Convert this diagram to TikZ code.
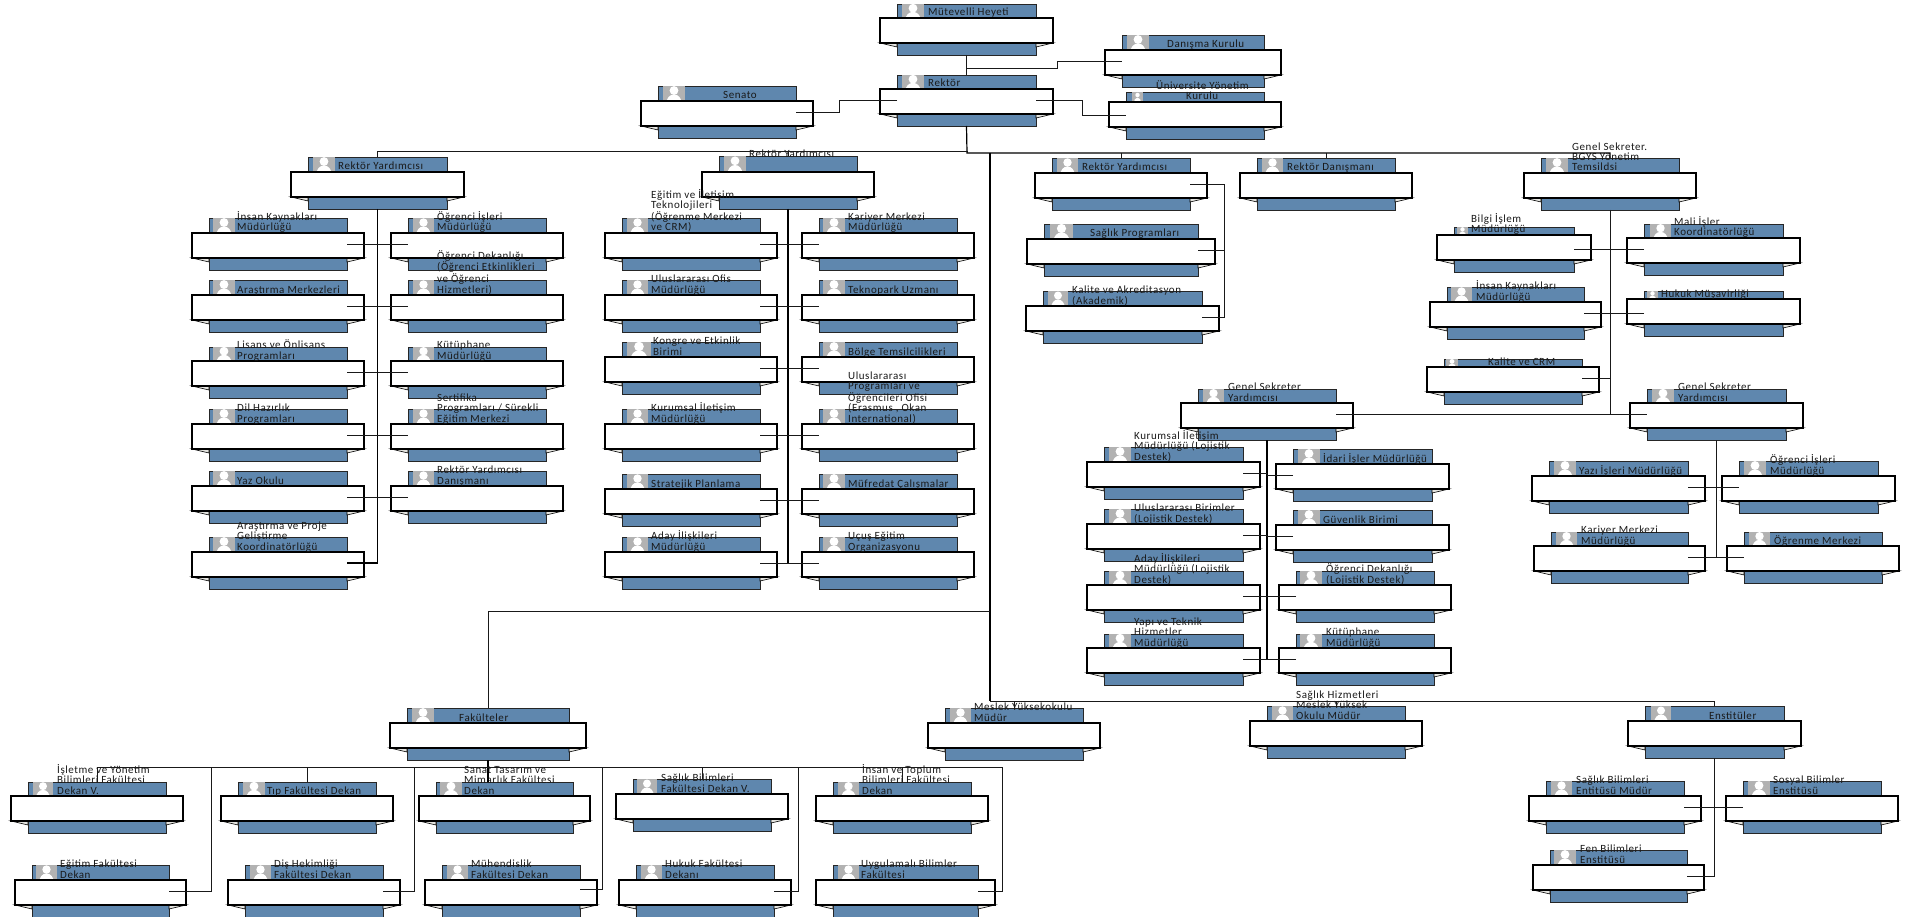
\documentclass[tikz,border=0pt]{standalone}
\usepackage{fontspec}
\setmainfont[LetterSpace=5]{Carlito}
\definecolor{cardblue}{HTML}{5F87AE}
\definecolor{photogray}{HTML}{B2B2B2}
\definecolor{foldgray}{HTML}{E4E4E0}
\tikzset{
  bluecard/.style={draw=black!85, line width=0.9pt, fill=cardblue, inner sep=0pt, outer sep=0pt},
  bannerbox/.style={draw=black, line width=1.1pt, fill=white, inner sep=0pt, outer sep=0pt},
  foldtip/.style={draw=black, line width=0.6pt, fill=foldgray},
  cardtext/.style={anchor=base west, align=left, inner sep=0pt, text=black!90, font=\fontsize{11}{10.4}\selectfont},
  link/.style={draw=black!90, line width=0.9pt},
  trunk/.style={draw=black, line width=1.2pt}
}
% name, blue left, blue right, blue top, banner top, photo left, photo right, text left, text
\newcommand{\orgcard}[9]{
  \pgfmathsetmacro{\cardmid}{(#2+#3)/2}
  \pgfmathsetmacro{\cardbot}{#5+37}
  \pgfmathsetmacro{\foldtop}{#5+25}
  \pgfmathsetmacro{\foldlow}{#5+29}
  \pgfmathsetmacro{\photomid}{(#6+#7)/2}
  \pgfmathsetmacro{\photow}{#7-#6}
  \pgfmathsetmacro{\photoh}{#5-#4}
  \node[bluecard, minimum width={(#3-#2)*1pt}, minimum height={(\cardbot-#4)*1pt}] (#1-card) at (\cardmid,{(#4+\cardbot)/2}) {};
  \fill[photogray] (#6,#4) rectangle (#7,#5);
  \begin{scope}
    \clip (#6,#4) rectangle (#7,#5);
    \fill[white] (\photomid,{#4+0.3*\photoh}) circle ({0.2*\photow});
    \fill[white] (\photomid,{#5+0.12*\photoh}) ellipse ({0.34*\photow} and {0.56*\photoh});
  \end{scope}
  \draw[foldtip] ({#2-17},\foldtop) -- (#2,\foldlow) -- (#2,\foldtop) -- cycle;
  \draw[foldtip] ({#3+17},\foldtop) -- (#3,\foldlow) -- (#3,\foldtop) -- cycle;
  \node[bannerbox, minimum width={(#3-#2+34)*1pt}, minimum height=25pt] (#1) at (\cardmid,{#5+12.5}) {};
  \coordinate (#1-l) at (#2,{#5+11});
  \coordinate (#1-r) at (#3,{#5+11});
  \node[cardtext] (#1-txt) at (#8,{#5-2}) {#9};
}
\begin{document}
\begin{tikzpicture}[x=1pt,y=-1pt]
\useasboundingbox (0,0) rectangle (1910,917);

% Top of the chart
\orgcard{mutevelli}{897}{1036}{4}{18}{902}{924}{928}{Mütevelli Heyeti}
\orgcard{danisma}{1122}{1264}{35}{50}{1127}{1149}{1167}{Danışma Kurulu}
\orgcard{rektor}{897}{1036}{75}{89}{902}{924}{928}{Rektör}
\orgcard{senato}{658}{796}{86}{101}{663}{685}{723}{Senato}
\orgcard{uyk}{1126}{1264}{92}{102}{1132}{1143}{1156}{Üniversite Yönetim\\\hspace*{30pt}Kurulu}
\coordinate (uyk-l) at (1126,115);

% Vice rector, left column
\orgcard{ry1}{308}{447}{157}{172}{313}{335}{338}{Rektör Yardımcısı}
\orgcard{ik}{209}{347}{218}{233}{213}{235}{237}{İnsan Kaynakları\\Müdürlüğü}
\orgcard{ogris}{408}{546}{218}{233}{413}{434}{437}{Öğrenci İşleri\\Müdürlüğü}
\orgcard{armer}{209}{347}{280}{295}{213}{235}{237}{Araştırma Merkezleri}
\orgcard{ogrdek}{408}{546}{280}{295}{413}{434}{437}{Öğrenci Dekanlığı\\(Öğrenci Etkinlikleri\\ve Öğrenci\\Hizmetleri)}
\orgcard{lisans}{209}{347}{347}{361}{213}{235}{237}{Lisans ve Önlisans\\Programları}
\orgcard{kutup}{408}{546}{347}{361}{413}{434}{437}{Kütüphane\\Müdürlüğü}
\orgcard{dil}{209}{347}{409}{424}{213}{235}{237}{Dil Hazırlık\\Programları}
\orgcard{sertifika}{408}{546}{409}{424}{413}{434}{437}{Sertifika\\Programları / Sürekli\\Eğitim Merkezi}
\orgcard{yaz}{209}{347}{471}{486}{213}{235}{237}{Yaz Okulu}
\orgcard{rydan}{408}{546}{471}{486}{413}{434}{437}{Rektör Yardımcısı\\Danışmanı}
\orgcard{arge}{209}{347}{537}{552}{213}{235}{237}{Araştırma ve Proje\\Geliştirme\\Koordinatörlüğü}

% Vice rector, middle column
\orgcard{ry2}{719}{857}{156}{172}{724}{746}{749}{Rektör Yardımcısı\\[1.6pt]~}
\orgcard{etkm}{622}{760}{218}{233}{627}{648}{651}{Eğitim ve İletişim\\Teknolojileri\\(Öğrenme Merkezi\\ve CRM)}
\orgcard{kariyer}{819}{957}{218}{233}{823}{845}{848}{Kariyer Merkezi\\Müdürlüğü}
\orgcard{ofis}{622}{760}{280}{295}{627}{648}{651}{Uluslararası Ofis\\Müdürlüğü}
\orgcard{tekno}{819}{957}{280}{295}{823}{845}{848}{Teknopark Uzmanı}
\orgcard{kongre}{622}{760}{342}{357}{627}{651}{653}{Kongre ve Etkinlik\\Birimi}
\orgcard{bolge}{819}{957}{342}{357}{823}{845}{848}{Bölge Temsilcilikleri}
\orgcard{kurumsal}{622}{760}{409}{424}{627}{648}{651}{Kurumsal İletişim\\Müdürlüğü}
\orgcard{erasmus}{819}{957}{409}{424}{823}{845}{848}{Uluslararası\\Programları ve\\Öğrencileri Ofisi\\(Erasmus , Okan\\International)}
\orgcard{strateji}{622}{760}{474}{489}{627}{648}{651}{Stratejik Planlama}
\orgcard{mufredat}{819}{957}{474}{489}{823}{845}{848}{Müfredat Çalışmalar}
\orgcard{aday}{622}{760}{537}{552}{627}{648}{651}{Aday İlişkileri\\Müdürlüğü}
\orgcard{ucus}{819}{957}{537}{552}{823}{845}{848}{Uçuş Eğitim\\Organizasyonu}

% Vice rector, health and the adviser
\orgcard{ry3}{1052}{1190}{158}{173}{1057}{1078}{1082}{Rektör Yardımcısı}
\orgcard{rd}{1257}{1395}{158}{173}{1262}{1283}{1287}{Rektör Danışmanı}
\orgcard{sagprog}{1044}{1198}{224}{239}{1050}{1073}{1090}{Sağlık Programları}
\orgcard{kalite}{1043}{1202}{291}{306}{1048}{1068}{1072}{Kalite ve Akreditasyon\\(Akademik)}

% General secretary
\orgcard{gs}{1541}{1679}{158}{173}{1546}{1568}{1572}{Genel Sekreter.\\BGYS Yönetim\\Temsildsi}
\orgcard{bilgi}{1454}{1574}{227}{235}{1457}{1468}{1471}{Bilgi İşlem\\Müdürlüğü}
\coordinate (bilgi-r) at (1574,249);
\orgcard{mali}{1644}{1783}{224}{238}{1650}{1671}{1674}{Mali İşler\\Koordinatörlüğü}
\orgcard{ik2}{1447}{1584}{287}{302}{1451}{1472}{1476}{İnsan Kaynakları\\Müdürlüğü}
\orgcard{hukuk}{1644}{1783}{291}{299}{1647}{1658}{1661}{Hukuk Müşavirliği}
\coordinate (hukuk-l) at (1644,313);
\orgcard{kalcrm}{1444}{1582}{359}{367}{1446}{1458}{1488}{Kalite ve CRM}

% Deputy secretaries
\orgcard{gsy1}{1198}{1336}{389}{403}{1203}{1224}{1228}{Genel Sekreter\\Yardımcısı}
\orgcard{gsy2}{1647}{1786}{389}{403}{1652}{1674}{1678}{Genel Sekreter\\Yardımcısı}
\orgcard{kurlo}{1104}{1243}{447}{462}{1109}{1131}{1134}{Kurumsal İletişim\\Müdürlüğü (Lojistik\\Destek)}
\orgcard{idari}{1293}{1432}{449}{464}{1298}{1320}{1323}{İdari İşler Müdürlüğü}
\orgcard{ulus}{1104}{1243}{509}{524}{1109}{1131}{1134}{Uluslararası Birimler\\(Lojistik Destek)}
\orgcard{guvenlik}{1293}{1432}{510}{525}{1298}{1320}{1323}{Güvenlik Birimi}
\orgcard{adaylo}{1104}{1243}{571}{585}{1109}{1131}{1134}{Aday İlişkileri\\Müdürlüğü (Lojistik\\Destek)}
\orgcard{deklo}{1296}{1434}{571}{585}{1300}{1322}{1326}{Öğrenci Dekanlığı\\(Lojistik Destek)}
\orgcard{yapi}{1104}{1243}{634}{648}{1109}{1131}{1134}{Yapı ve Teknik\\Hizmetler\\Müdürlüğü}
\orgcard{kutlo}{1296}{1434}{634}{648}{1300}{1322}{1326}{Kütüphane\\Müdürlüğü}
\orgcard{yazi}{1549}{1688}{461}{476}{1554}{1576}{1579}{Yazı İşleri Müdürlüğü}
\orgcard{ogr2}{1739}{1878}{461}{476}{1744}{1766}{1770}{Öğrenci İşleri\\Müdürlüğü}
\orgcard{kar2}{1551}{1688}{532}{546}{1556}{1577}{1581}{Kariyer Merkezi\\Müdürlüğü}
\orgcard{ogrmer}{1744}{1882}{532}{546}{1749}{1770}{1774}{Öğrenme Merkezi}

% Schools and institutes
\orgcard{meslek}{945}{1083}{708}{723}{950}{971}{974}{Meslek Yüksekokulu\\Müdür}
\orgcard{shmyo}{1267}{1405}{706}{721}{1272}{1293}{1296}{Sağlık Hizmetleri\\Meslek Yüksek\\Okulu Müdür}
\orgcard{enst}{1645}{1784}{706}{721}{1651}{1671}{1709}{Enstitüler}
\orgcard{sagbil}{1546}{1684}{781}{796}{1551}{1572}{1576}{Sağlık Bilimleri\\Entitüsü Müdür}
\orgcard{sosyal}{1743}{1881}{781}{796}{1748}{1770}{1773}{Sosyal Bilimler\\Enstitüsü}
\orgcard{fen}{1550}{1687}{850}{865}{1554}{1576}{1580}{Fen Bilimleri\\Enstitüsü}

% Faculties
\orgcard{fakulteler}{407}{569}{708}{723}{412}{434}{459}{Fakülteler}
\orgcard{isletme}{28}{166}{782}{796}{33}{53}{57}{İşletme ve Yönetim\\Bilimleri Fakültesi\\Dekan V.}
\orgcard{tip}{238}{376}{782}{796}{243}{265}{267}{Tıp Fakültesi Dekan}
\orgcard{sanat}{436}{573}{782}{796}{440}{462}{464}{Sanat Tasarım ve\\Mimarlık Fakültesi\\Dekan}
\orgcard{sagfak}{633}{771}{779}{794}{637}{657}{661}{Sağlık Bilimleri\\Fakültesi Dekan V.}
\orgcard{insan}{833}{971}{782}{796}{838}{859}{862}{İnsan ve Toplum\\Bilimleri Fakültesi\\Dekan}
\orgcard{egitim}{32}{169}{865}{880}{36}{57}{60}{Eğitim Fakültesi\\Dekan}
\orgcard{dis}{245}{383}{865}{880}{250}{271}{274}{Diş Hekimliği\\Fakültesi Dekan}
\orgcard{muh}{442}{580}{865}{880}{447}{468}{471}{Mühendislik\\Fakültesi Dekan}
\orgcard{hukfak}{636}{774}{865}{880}{641}{662}{665}{Hukuk Fakültesi\\Dekanı}
\orgcard{uyg}{833}{978}{865}{880}{838}{859}{861}{Uygulamalı Bilimler\\Fakültesi}
\coordinate (muh-r) at (580,889);

% Bend points of the connectors
\coordinate (danismabend) at (1057,68);
\coordinate (uykbend) at (1082,100);
\coordinate (senatobend) at (839,100);
\coordinate (leftbus) at (967,151);
\coordinate (rightbus) at (967,153);
\coordinate (maintop) at (990,153);
\coordinate (mainbot) at (990,701);
\coordinate (fakbranch) at (990,611);
\coordinate (ry3bend) at (1224,184);
\coordinate (fakbus) at (488,767);
\coordinate (fakend) at (1002,767);

% Connectors at the top
\draw[link] (mutevelli-card.south) -- (rektor-card.north);
\draw[link] (rektor-card.north |- danismabend) -- (danismabend) |- (danisma-l);
\draw[link] (rektor-r) -- (uykbend) |- (uyk-l);
\draw[link] (rektor-l) -- (senatobend) |- (senato-r);
\draw[trunk] (rektor-card.south) -- (rightbus) -- (rightbus -| gs-card.north) -- (gs-card.north);
\draw[link] (rightbus) -- (leftbus) -- (leftbus -| ry1-card.north) -- (ry1-card.north);
\draw[link] (leftbus -| ry2-card.north) -- (ry2-card.north);
\foreach \n in {ry3, rd} {
    \draw[link] (rightbus -| \n-card.north) -- (\n-card.north);
}

% Main line to the lower half
\draw[trunk] (maintop) -- (mainbot);
\draw[link] (mainbot) -- (mainbot -| enst-card.north) -- (enst-card.north);
\draw[link] (fakbranch) -- (fakbranch -| fakulteler-card.north) -- (fakulteler-card.north);
\foreach \n in {meslek, shmyo} {
    \draw[link] (mainbot -| \n-card.north) -- (\n-card.north);
}

% Vice rector trunks
\draw[trunk] (ry1-card.south) -- (ry1-card.south |- arge-r) -- (arge-r);
\foreach \a/\b in {ik/ogris, armer/ogrdek, lisans/kutup, dil/sertifika, yaz/rydan} {
    \draw[link] (\a-r) -- (\b-l);
}
\draw[trunk] (ry2-card.south) -- (ry2-card.south |- aday-r);
\foreach \a/\b in {etkm/kariyer, ofis/tekno, kongre/bolge, kurumsal/erasmus, strateji/mufredat, aday/ucus} {
    \draw[link] (\a-r) -- (\b-l);
}
\draw[link] (ry3-r) -- (ry3bend) |- (kalite-r);
\draw[link] (sagprog-r) -- (sagprog-r -| ry3bend);

% General secretary trunk
\draw[link] (gs-card.south) -- (gs-card.south |- gsy2-l);
\draw[link] (gsy1-r) -- (gsy2-l);
\foreach \n in {bilgi, ik2, kalcrm} {
    \draw[link] (\n-r) -- (\n-r -| gs-card.south);
}
\foreach \n in {mali, hukuk} {
    \draw[link] (\n-l) -- (\n-l -| gs-card.south);
}

% Deputy secretary trunks
\draw[trunk] (gsy1-card.south) -- (gsy1-card.south |- yapi-r);
\foreach \n in {kurlo, ulus, adaylo, yapi} {
    \draw[link] (\n-r) -- (\n-r -| gsy1-card.south);
}
\foreach \n in {idari, guvenlik, deklo, kutlo} {
    \draw[link] (\n-l) -- (\n-l -| gsy1-card.south);
}
\draw[link] (gsy2-card.south) -- (gsy2-card.south |- kar2-r);
\foreach \a/\b in {yazi/ogr2, kar2/ogrmer} {
    \draw[link] (\a-r) -- (\b-l);
}

% Institutes
\draw[link] (enst-card.south) -- (enst-card.south |- fen-r) -- (fen-r);
\draw[link] (sagbil-r) -- (sosyal-l);

% Faculty bus
\draw[trunk] (fakulteler-card.south) -- (fakulteler-card.south |- sanat-card.north);
\draw[link] (fakbus -| isletme-card.north) -- (fakend);
\foreach \n in {isletme, tip, sagfak, insan} {
    \draw[link] (fakbus -| \n-card.north) -- (\n-card.north);
}
\foreach \n/\x in {egitim/211, dis/414, muh/602, hukfak/798, uyg/1002} {
    \coordinate (\n-up) at (\x,767);
    \draw[link] (\n-r) -| (\n-up);
}

\end{tikzpicture}
\end{document}
